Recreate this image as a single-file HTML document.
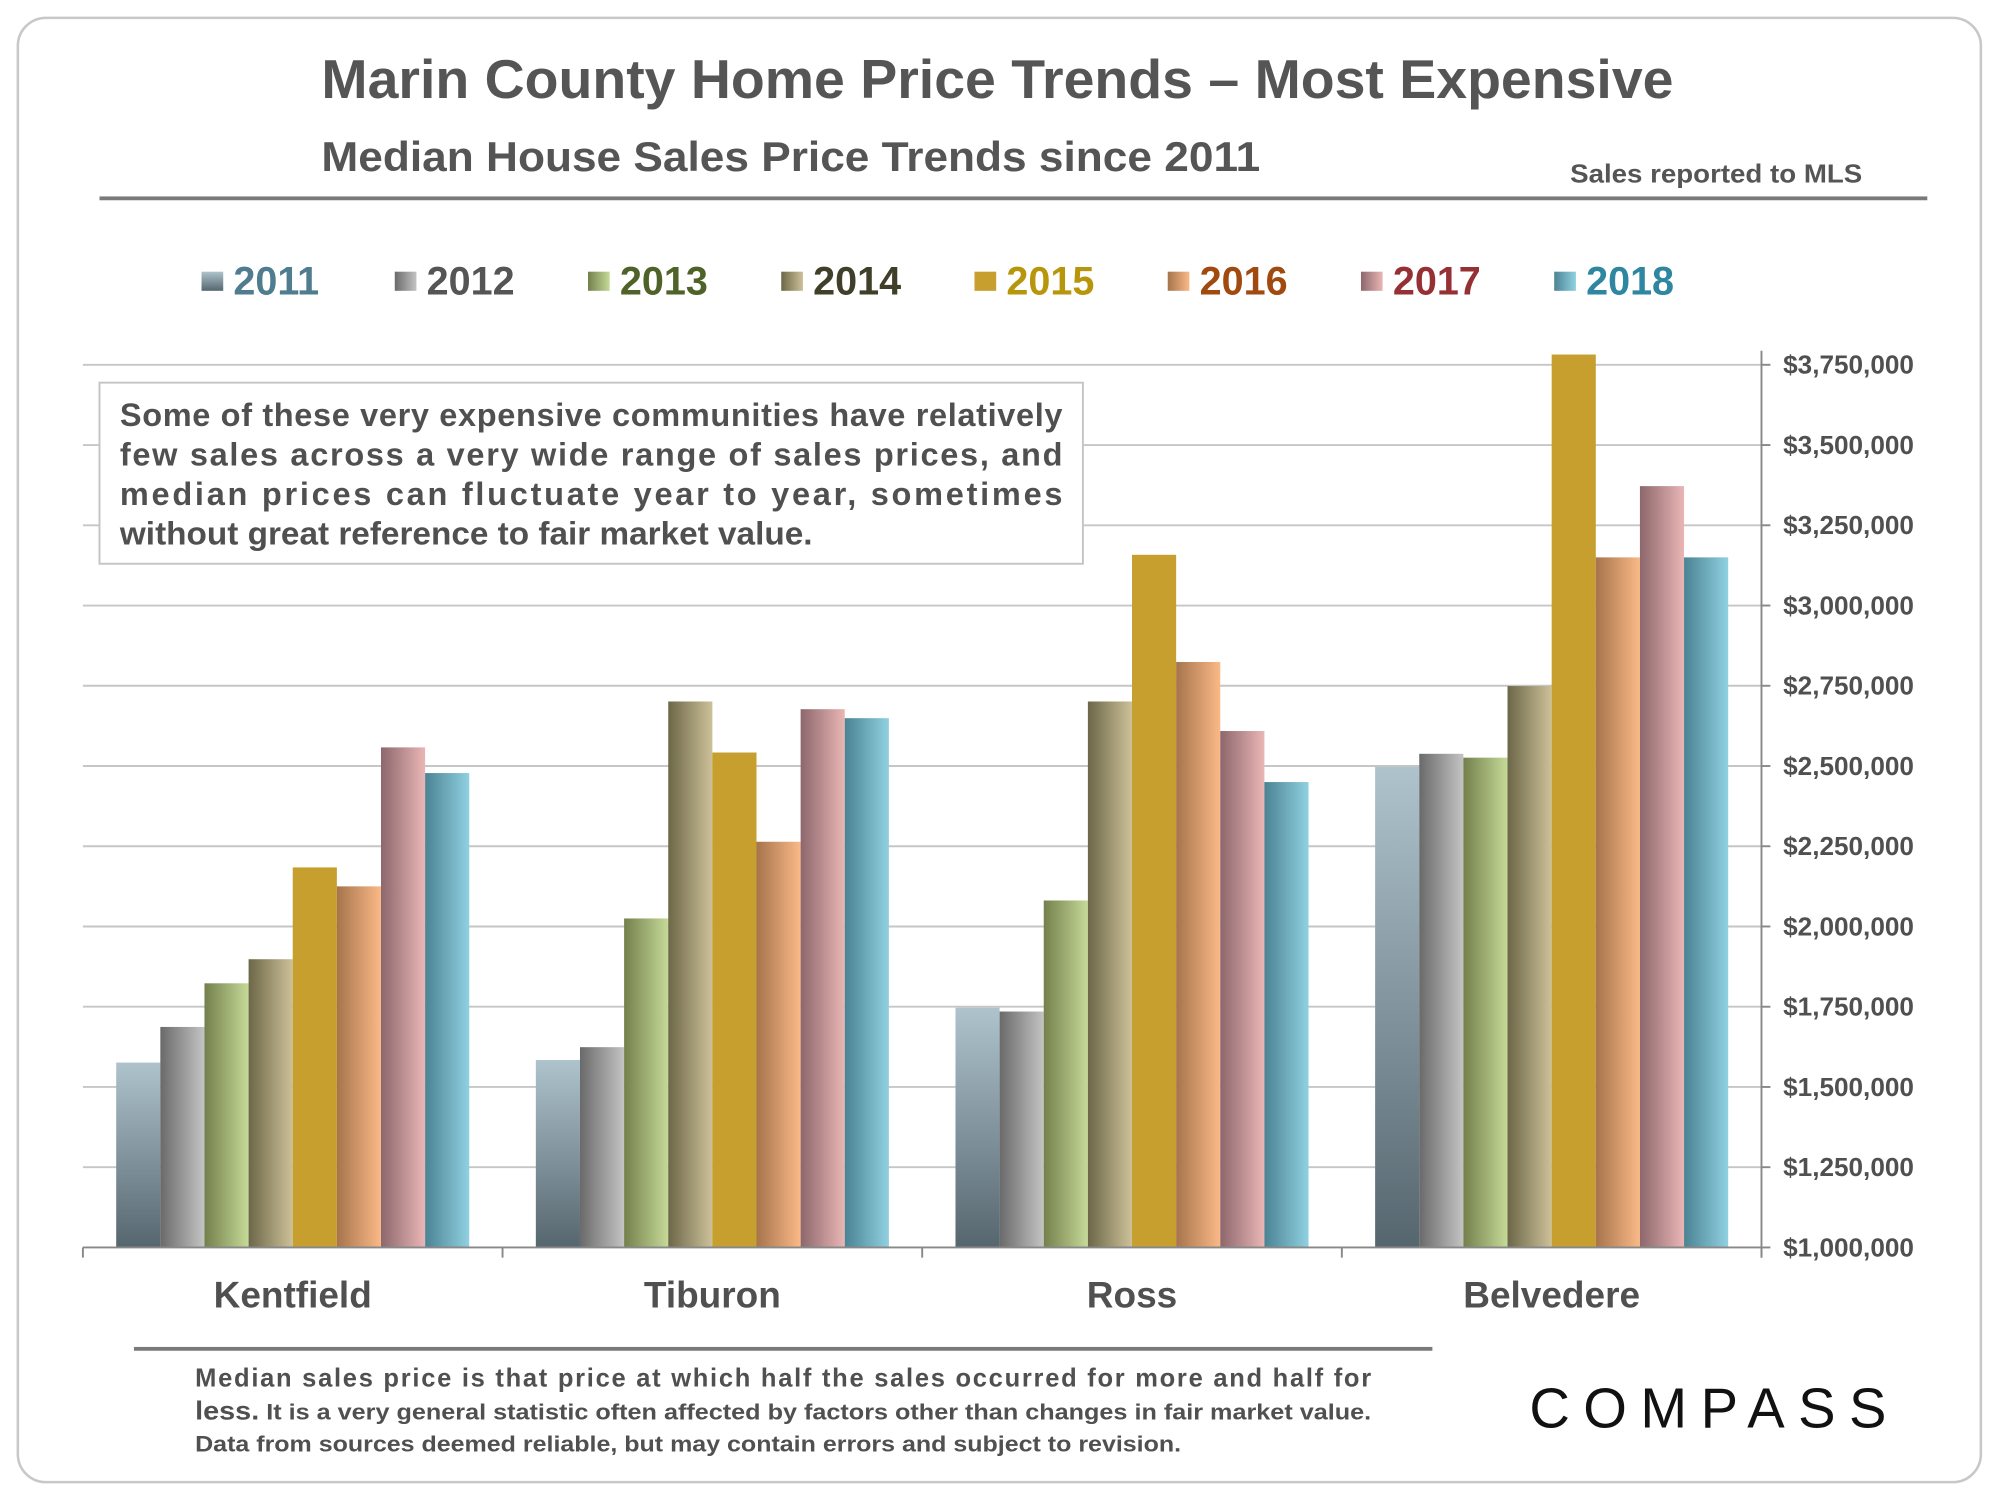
<!DOCTYPE html>
<html><head><meta charset="utf-8"><style>
html,body{margin:0;padding:0;background:#fff;}
svg{display:block;font-family:"Liberation Sans",Arial,sans-serif;font-weight:bold;}
</style></head><body>
<svg id="chart" width="2000" height="1500" viewBox="0 0 1568 1176" xmlns="http://www.w3.org/2000/svg">
<defs>
<linearGradient id="g0" x1="0" y1="0" x2="0" y2="1"><stop offset="0" stop-color="#aec3cc"/><stop offset="1" stop-color="#56666f"/></linearGradient>
<linearGradient id="g1"><stop offset="0" stop-color="#6a6a6a"/><stop offset="1" stop-color="#c4c4c4"/></linearGradient>
<linearGradient id="g2"><stop offset="0" stop-color="#74804c"/><stop offset="1" stop-color="#c6da98"/></linearGradient>
<linearGradient id="g3"><stop offset="0" stop-color="#6c6748"/><stop offset="1" stop-color="#cdc199"/></linearGradient>
<linearGradient id="g4"><stop offset="0" stop-color="#c69f2e"/><stop offset="1" stop-color="#c69f2e"/></linearGradient>
<linearGradient id="g5"><stop offset="0" stop-color="#a6744c"/><stop offset="1" stop-color="#fbb987"/></linearGradient>
<linearGradient id="g6"><stop offset="0" stop-color="#8c676c"/><stop offset="1" stop-color="#eab6b5"/></linearGradient>
<linearGradient id="g7"><stop offset="0" stop-color="#4b8393"/><stop offset="1" stop-color="#90d1e1"/></linearGradient>
</defs>
<rect x="14" y="14" width="1539" height="1148" rx="22" fill="#fff" stroke="#c8c8c8" stroke-width="2"/>
<text x="252" y="77" font-size="43" fill="#555" textLength="1060" lengthAdjust="spacingAndGlyphs">Marin County Home Price Trends – Most Expensive</text>
<text x="252" y="134" font-size="33" fill="#555" textLength="736" lengthAdjust="spacingAndGlyphs">Median House Sales Price Trends since 2011</text>
<text x="1231" y="143" font-size="20" fill="#555" textLength="229" lengthAdjust="spacingAndGlyphs">Sales reported to MLS</text>
<rect x="78" y="154" width="1433" height="3" fill="#7a7a7a"/>
<g id="legend"></g>
<g id="grid"></g>
<g id="bars"></g>
<g id="axes"></g>
<rect x="78" y="300" width="771" height="142" fill="#fff" stroke="#c4c4c4" stroke-width="1.5"/>
<g font-size="25.5" fill="#505050">
<text x="94" y="334" textLength="739" lengthAdjust="spacing">Some of these very expensive communities have relatively</text>
<text x="94" y="365" textLength="739" lengthAdjust="spacing">few sales across a very wide range of sales prices, and</text>
<text x="94" y="396" textLength="739" lengthAdjust="spacing">median prices can fluctuate year to year, sometimes</text>
<text x="94" y="427" textLength="543" lengthAdjust="spacingAndGlyphs">without great reference to fair market value.</text>
</g>
<rect x="105" y="1056" width="1018" height="3" fill="#7a7a7a"/>
<g fill="#505050">
<text x="153" y="1087" font-size="20" textLength="922" lengthAdjust="spacing">Median sales price is that price at which half the sales occurred for more and half for</text>
<text x="153" y="1113" font-size="17.5" textLength="922" lengthAdjust="spacingAndGlyphs"><tspan font-size="20">less.</tspan> It is a very general statistic often affected by factors other than changes in fair market value.</text>
<text x="153" y="1138" font-size="17.5" textLength="773" lengthAdjust="spacingAndGlyphs">Data from sources deemed reliable, but may contain errors and subject to revision.</text>
</g>
<text x="1199" y="1119" font-size="44" font-weight="normal" fill="#111" textLength="284" lengthAdjust="spacing" letter-spacing="4">COMPASS</text>
</svg>
<script>
const categories = ["Kentfield","Tiburon","Ross","Belvedere"];
const years = ["2011","2012","2013","2014","2015","2016","2017","2018"];
const v2011 = [1576000,1584000,1747000,2498000];
const v2012 = [1687000,1624000,1735000,2538000];
const v2013 = [1823000,2025000,2081000,2526000];
const v2014 = [1898000,2701000,2701000,2749000];
const v2015 = [2184000,2542000,3158000,3782000];
const v2016 = [2125000,2264000,2824000,3150000];
const v2017 = [2558000,2677000,2609000,3372000];
const v2018 = [2478000,2649000,2450000,3150000];
const series = [v2011,v2012,v2013,v2014,v2015,v2016,v2017,v2018];
const yTicks = [1000000,1250000,1500000,1750000,2000000,2250000,2500000,2750000,3000000,3250000,3500000,3750000];
const legendColors = ["#4f7c8e","#555555","#4f6228","#3f3f2a","#b8960c","#a04a10","#953035","#2e86a0"];

const NS="http://www.w3.org/2000/svg";
const X0=65,X1=1381,Y0=978,Y1=286,YMIN=1000000,YMAX=3750000;
const groupW=(X1-X0)/categories.length, barW=34.6, padL=(groupW-barW*8)/2;
function yS(v){return Y0-(v-YMIN)/(YMAX-YMIN)*(Y0-Y1);}
function xS(ci,si){return X0+ci*groupW+padL+si*barW;}
function mk(tag,attrs,parent){const e=document.createElementNS(NS,tag);for(const k in attrs)e.setAttribute(k,attrs[k]);parent.appendChild(e);return e;}
const grid=document.getElementById('grid'),bars=document.getElementById('bars'),axes=document.getElementById('axes'),legend=document.getElementById('legend');

yTicks.forEach(t=>{
  const y=yS(t);
  if(t>YMIN){const l=mk('line',{x1:X0,x2:X1,y1:y,y2:y,stroke:'#c6c6c6','stroke-width':1.5},grid);
  
  }
  const tk=mk('line',{x1:X1,x2:X1+7,y1:y,y2:y,stroke:'#888','stroke-width':1.5},axes);
  
  
  const tx=mk('text',{x:1398,y:y+7,'font-size':20.5,fill:'#505050'},axes);
  
  
  tx.textContent='$'+t.toLocaleString('en-US');
});
series.forEach((arr,si)=>{
  arr.forEach((v,ci)=>{
    const y=yS(v);
    const r=mk('rect',{x:xS(ci,si),y:y,width:barW,height:Y0-y,fill:'url(#g'+si+')'},bars);
    
    
  });
});
const xa=mk('line',{x1:X0,x2:X1,y1:Y0,y2:Y0,stroke:'#888','stroke-width':1.5},axes);


const ya=mk('line',{x1:X1,x2:X1,y1:275,y2:986,stroke:'#888','stroke-width':1.5},axes);


for(let i=0;i<=categories.length;i++){
  const x=X0+i*groupW;
  const t=mk('line',{x1:x,x2:x,y1:Y0,y2:Y0+8,stroke:'#888','stroke-width':1.5},axes);
  
  
}
categories.forEach((c,ci)=>{
  const t=mk('text',{x:X0+(ci+0.5)*groupW,y:1025,'font-size':29,fill:'#505050','text-anchor':'middle'},axes);
  
  
  t.textContent=c;
});
years.forEach((yr,i)=>{
  const x=158+i*151.5;
  const s=mk('rect',{x:x,y:213,width:17,height:15,fill:'url(#g'+i+')'},legend);
  
  
  const t=mk('text',{x:x+25,y:231,'font-size':31,fill:legendColors[i]},legend);
  
  
  t.textContent=yr;
});
</script>
</body></html>
